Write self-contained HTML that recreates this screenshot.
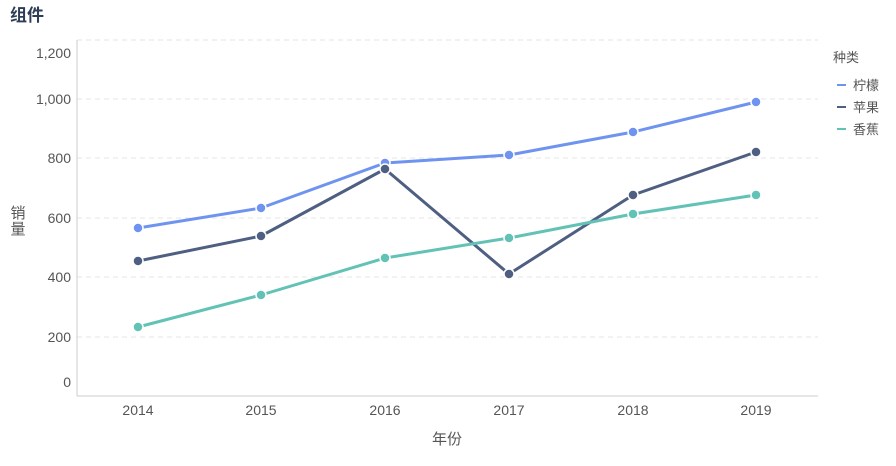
<!DOCTYPE html>
<html><head><meta charset="utf-8"><style>
body{margin:0;background:#fff;width:896px;height:461px;overflow:hidden;font-family:"Liberation Sans","Noto Sans CJK SC",sans-serif}
</style></head><body>
<svg width="896" height="461" xmlns="http://www.w3.org/2000/svg" font-family="Liberation Sans, Noto Sans CJK SC, sans-serif">
<text x="10" y="21" font-size="17" font-weight="bold" fill="#2e3d57">组件</text>
<g stroke="#e6e6e6" stroke-dasharray="5,4" stroke-width="1">
<line x1="77" x2="818" y1="40" y2="40"/><line x1="77" x2="818" y1="99" y2="99"/><line x1="77" x2="818" y1="158" y2="158"/><line x1="77" x2="818" y1="218" y2="218"/><line x1="77" x2="818" y1="277" y2="277"/><line x1="77" x2="818" y1="337" y2="337"/>
</g>
<line x1="77" x2="77" y1="40" y2="396" stroke="#ccc"/>
<line x1="77" x2="818" y1="396" y2="396" stroke="#ccc"/>
<g font-size="14" fill="#555" text-anchor="end">
<text x="71" y="58">1,200</text><text x="71" y="104">1,000</text><text x="71" y="163">800</text><text x="71" y="223">600</text><text x="71" y="282">400</text><text x="71" y="342">200</text><text x="71" y="387">0</text>
</g>
<g font-size="14" fill="#555" text-anchor="middle">
<text x="138" y="415">2014</text><text x="261" y="415">2015</text><text x="385" y="415">2016</text><text x="509" y="415">2017</text><text x="633" y="415">2018</text><text x="756" y="415">2019</text>
<text x="447" y="444" font-size="15">年份</text>
<text x="18" y="218" font-size="15">销</text><text x="18" y="234" font-size="15">量</text>
</g>
<g fill="none" stroke-width="3" stroke-linejoin="round">
<polyline stroke="#6f94f0" points="138,228 261,208 385,163 509,155 633,132 756,102"/>
<polyline stroke="#4e5f82" points="138,261 261,236 385,169 509,274 633,195 756,152"/>
<polyline stroke="#63c2b6" points="138,327 261,295 385,258 509,238 633,214 756,195"/>
</g>
<g stroke="#fff" stroke-width="1.5">
<g fill="#6f94f0"><circle cx="138" cy="228" r="5"/><circle cx="261" cy="208" r="5"/><circle cx="385" cy="163" r="5"/><circle cx="509" cy="155" r="5"/><circle cx="633" cy="132" r="5"/><circle cx="756" cy="102" r="5"/></g>
<g fill="#4e5f82"><circle cx="138" cy="261" r="5"/><circle cx="261" cy="236" r="5"/><circle cx="385" cy="169" r="5"/><circle cx="509" cy="274" r="5"/><circle cx="633" cy="195" r="5"/><circle cx="756" cy="152" r="5"/></g>
<g fill="#63c2b6"><circle cx="138" cy="327" r="5"/><circle cx="261" cy="295" r="5"/><circle cx="385" cy="258" r="5"/><circle cx="509" cy="238" r="5"/><circle cx="633" cy="214" r="5"/><circle cx="756" cy="195" r="5"/></g>
</g>
<g font-size="13" fill="#555">
<text x="833" y="62">种类</text>
<line x1="837" x2="846" y1="85" y2="85" stroke="#6f94f0" stroke-width="2"/><text x="853" y="90">柠檬</text>
<line x1="837" x2="846" y1="107" y2="107" stroke="#4e5f82" stroke-width="2"/><text x="853" y="112">苹果</text>
<line x1="837" x2="846" y1="129" y2="129" stroke="#63c2b6" stroke-width="2"/><text x="853" y="134">香蕉</text>
</g>
</svg>
</body></html>
